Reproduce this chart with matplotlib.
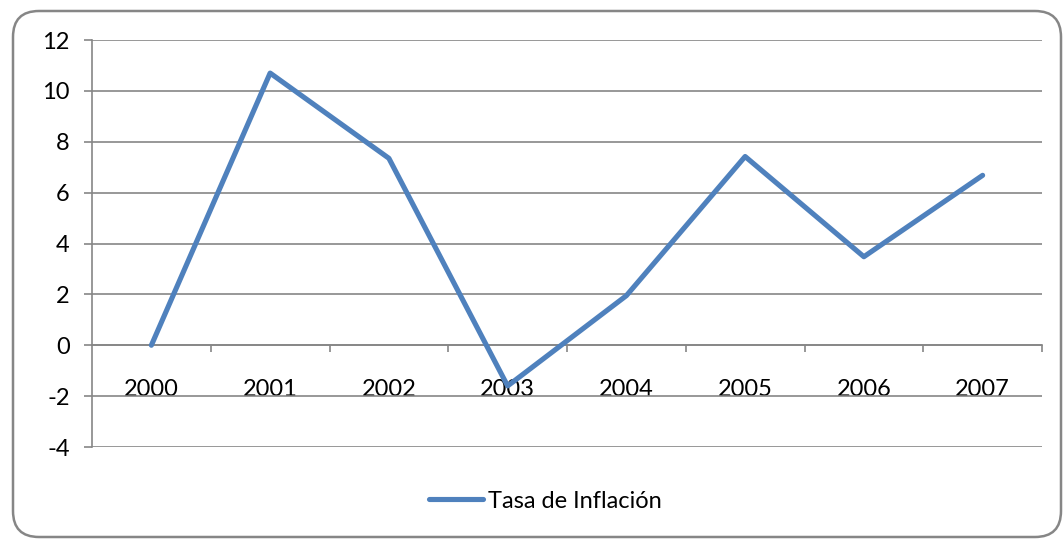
import matplotlib
matplotlib.use("Agg")
import matplotlib.pyplot as plt
from matplotlib.patches import FancyBboxPatch
from matplotlib.ticker import FixedLocator
from matplotlib.transforms import IdentityTransform

years = ["2000", "2001", "2002", "2003", "2004", "2005", "2006", "2007"]
inflation = [0.0, 10.7, 7.35, -1.6, 1.95, 7.42, 3.48, 6.68]
series_name = "Tasa de Inflación"
y_ticks = [-4, -2, 0, 2, 4, 6, 8, 10, 12]

plt.rcParams['font.family'] = ['Lato', 'DejaVu Sans']
FS = 17
GRAY = '#868686'
BLUE = '#4F81BD'

W, H = 1063, 539
fig = plt.figure(figsize=(W / 100, H / 100), dpi=100)
fig.patch.set_facecolor('white')

# rounded outer border (display pixel coords, origin bottom-left)
border = FancyBboxPatch((13, 2), W - 15, H - 13,
                        boxstyle="round,pad=0,rounding_size=26",
                        transform=IdentityTransform(), facecolor='none',
                        edgecolor=GRAY, linewidth=1.8, zorder=5)
fig.patches.append(border)

ax = fig.add_axes([92 / W, 1 - 447 / H, (1042 - 92) / W, (447 - 40) / H])
ax.set_facecolor('none')
x = list(range(len(years)))
ax.plot(x, inflation, color=BLUE, linewidth=3.7, solid_capstyle='round',
        solid_joinstyle='round', label=series_name, zorder=3)

ax.set_xlim(-0.5, len(years) - 0.5)
ax.set_ylim(-4, 12)
ax.set_yticks(y_ticks)
ax.set_yticklabels([str(v) for v in y_ticks])
ax.yaxis.grid(True, color=GRAY, linewidth=1.2)
ax.set_axisbelow(True)

for s in ['top', 'right']:
    ax.spines[s].set_visible(False)
ax.spines['left'].set_color(GRAY)
ax.spines['left'].set_linewidth(1.2)
ax.spines['bottom'].set_position(('data', 0))
ax.spines['bottom'].set_color(GRAY)
ax.spines['bottom'].set_linewidth(1.2)

ax.set_xticks(x)
ax.set_xticklabels(years)
ax.xaxis.set_minor_locator(FixedLocator([i + 0.5 for i in x]))
ax.tick_params(axis='x', which='major', length=0, pad=24, labelsize=FS)
ax.tick_params(axis='x', which='minor', length=5, color=GRAY, width=1.2, direction='out')
ax.tick_params(axis='y', length=6, color=GRAY, width=1.2, direction='out', pad=10, labelsize=FS)

leg = fig.legend(loc='center', bbox_to_anchor=(545 / W, 1 - 501 / H), frameon=False,
                 fontsize=FS, handlelength=2.3, handletextpad=0.2)

fig.savefig('out.png', dpi=100, facecolor='white')
